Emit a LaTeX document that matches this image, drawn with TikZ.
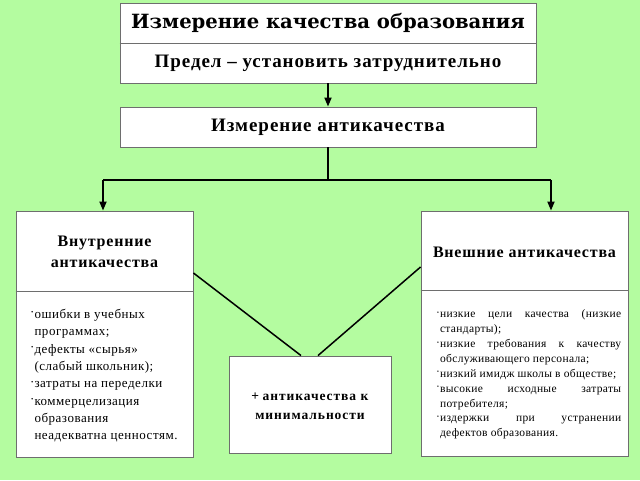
\documentclass[tikz,border=0pt]{standalone}
\usepackage{fontspec}
\setmainfont{Liberation Serif}
\newfontfamily\titlefont{DejaVu Serif}
\newfontfamily\hfont[LetterSpace=5]{Liberation Serif}
\newfontfamily\mfont[LetterSpace=7]{Liberation Serif}
\newfontfamily\lfont[LetterSpace=4]{Liberation Serif}
\newfontfamily\rfont[LetterSpace=3]{Liberation Serif}
\usetikzlibrary{arrows.meta}
\definecolor{bg}{RGB}{180,252,160}
\definecolor{frame}{RGB}{110,110,110}
\newcommand{\bul}{\raisebox{0.12em}{·}}
\newcommand{\ind}{\phantom{·}}
\begin{document}
\begin{tikzpicture}[x=1pt,y=-1pt,
  box/.style={draw=frame,line width=0.9pt,fill=white,inner sep=0pt,rectangle},
  divider/.style={draw=frame,line width=0.9pt},
  conn/.style={line width=1.8pt,black},
  arr/.style={conn,-{Triangle[length=9pt,width=7pt]}},
  hdr/.style={font=\hfont\bfseries\fontsize{#1}{21}\selectfont,align=center,inner sep=0pt},
  hdr/.default=19]
\fill[bg] (0,0) rectangle (640,480);
\useasboundingbox (0,0) rectangle (640,480);
% top box
\node[box,minimum width=416pt,minimum height=80pt] (top) at (328,43) {};
\draw[divider] (top.west) -- (top.east);
\node[font=\titlefont\bfseries\fontsize{19.6}{20}\selectfont,inner sep=0pt] (t1) at (328,23) {Измерение качества образования};
\node[hdr] (t2) at (328,63) {Предел – установить затруднительно};
% second box
\node[box,minimum width=416pt,minimum height=40pt,hdr] (anti) at (328,127) {Измерение антикачества};
% left and right boxes
\node[box,minimum width=177pt,minimum height=246pt] (left) at (104.5,334) {};
\draw[divider] ([yshift=43pt]left.west) -- ([yshift=43pt]left.east);
\node[hdr=16] (lh) at (104.5,252) {Внутренние\\антикачества};
\node[box,minimum width=207pt,minimum height=245pt] (right) at (524.5,333.5) {};
\draw[divider] ([yshift=43.5pt]right.west) -- ([yshift=43.5pt]right.east);
\node[hdr=16] (rh) at (524.5,252) {Внешние антикачества};
% middle box
\node[box,minimum width=162pt,minimum height=97pt] (mid) at (310,404.5) {};
\node[font=\mfont\bfseries\fontsize{13.5}{19}\selectfont,align=center,inner sep=0pt] (mt) at (310,406) {+\hspace{3.5pt}антикачества\hspace{4.5pt}к\\минимальности};
% lists
\node[anchor=north west,align=left,inner sep=0pt,font=\lfont\fontsize{13}{17.3}\selectfont] (ll) at (30,309) {%
\bul ошибки в учебных\\
\ind программах;\\
\bul дефекты «сырья»\\
\ind (слабый школьник);\\
\bul затраты на переделки\\
\bul коммерцелизация\\
\ind образования\\
\ind неадекватна ценностям.};
\node[anchor=north west,align=left,inner sep=0pt,font=\rfont\fontsize{11.5}{14.9}\selectfont] (rl) at (436,309.5) {%
\makebox[185pt][s]{\bul низкие цели качества (низкие}\\
\ind стандарты);\\
\makebox[185pt][s]{\bul низкие требования к качеству}\\
\ind обслуживающего персонала;\\
\bul низкий имидж школы в обществе;\\
\makebox[185pt][s]{\bul высокие исходные затраты}\\
\ind потребителя;\\
\makebox[185pt][s]{\bul издержки при устранении}\\
\ind дефектов образования.};
% connectors
\coordinate (lt) at (103,180);
\coordinate (rt) at (551,180);
\draw[arr] (top.south) -- (anti.north);
\draw[conn] (anti.south) -- (anti.south |- lt);
\draw[conn] (lt) -- (rt);
\draw[arr] (lt) -- (lt |- left.north);
\draw[arr] (rt) -- (rt |- right.north);
\draw[conn,line width=1.5pt] ([yshift=61pt]left.east) -- ([xshift=-9pt]mid.north);
\draw[conn,line width=1.5pt] ([xshift=8pt]mid.north) -- ([yshift=66.5pt]right.west);
\end{tikzpicture}
\end{document}
